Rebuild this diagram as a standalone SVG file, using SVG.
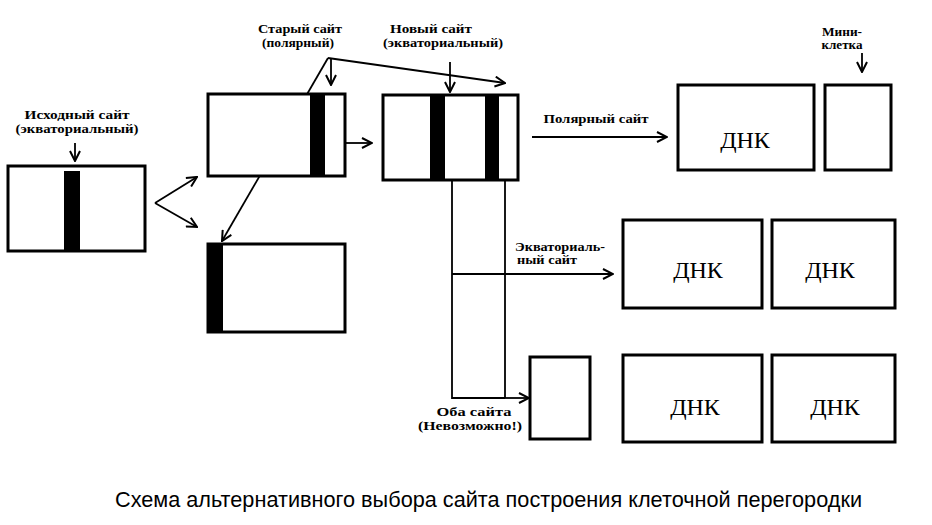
<svg xmlns="http://www.w3.org/2000/svg" width="932" height="525" viewBox="0 0 932 525">
<defs>
<style>
.box{fill:#fff;stroke:#000;stroke-width:3}
.band{fill:#000}
.ln{fill:none;stroke:#000;stroke-width:1.8}
.arr{fill:none;stroke:#000;stroke-width:1.8;marker-end:url(#ah)}
.lbl{font-family:"Liberation Serif","Times New Roman",serif;font-weight:bold;font-size:13px;text-anchor:middle;fill:#000}
.sm{font-size:11.5px}
.dnk{font-family:"Liberation Serif","Times New Roman",serif;font-size:24px;text-anchor:middle;fill:#000}
.title{font-family:"Liberation Sans",Arial,sans-serif;font-size:22px;fill:#000}
</style>
<marker id="ah" viewBox="0 0 12 12" refX="11" refY="6" markerWidth="12" markerHeight="12" markerUnits="userSpaceOnUse" orient="auto">
<path d="M1,1 L11,6 L1,11" fill="none" stroke="#000" stroke-width="2"/>
</marker>
</defs>
<rect width="932" height="525" fill="#fff"/>

<g id="connectors">
<line class="arr" x1="75" y1="143" x2="75" y2="161"/>
<line class="arr" x1="155" y1="203" x2="197" y2="177"/>
<line class="arr" x1="155" y1="203" x2="197" y2="227"/>
<line class="arr" x1="346" y1="143" x2="372" y2="143"/>
<line class="arr" x1="328" y1="58" x2="222" y2="241"/>
<line class="arr" x1="328" y1="58" x2="505" y2="83"/>
<line class="arr" x1="331" y1="59" x2="331" y2="85"/>
<line class="arr" x1="450" y1="62" x2="450" y2="92"/>
<line class="arr" x1="532" y1="137" x2="667" y2="137"/>
<line class="arr" x1="862" y1="53" x2="862" y2="72"/>
<polyline class="ln" points="452,180 452,398 505,398"/>
<line class="ln" x1="505" y1="180" x2="505" y2="398"/>
<line class="arr" x1="452" y1="274" x2="613" y2="274"/>
<line class="arr" x1="505" y1="398" x2="529" y2="398"/>
</g>

<g id="initial-cell">
<rect class="box" x="8" y="166" width="137" height="85"/>
<rect class="band" x="64" y="171" width="16" height="80"/>
<text class="lbl" x="77" y="119" textLength="105" lengthAdjust="spacingAndGlyphs">Исходный сайт</text>
<text class="lbl" x="77" y="133" textLength="123" lengthAdjust="spacingAndGlyphs">(экваториальный)</text>
</g>

<g id="cell-polar">
<rect class="box" x="208" y="94" width="137" height="82"/>
<rect class="band" x="310" y="94" width="15" height="82"/>
<text class="lbl" x="300" y="33" textLength="84" lengthAdjust="spacingAndGlyphs">Старый сайт</text>
<text class="lbl" x="298" y="47" textLength="72" lengthAdjust="spacingAndGlyphs">(полярный)</text>
</g>

<g id="cell-left-band">
<rect class="box" x="208" y="244" width="137" height="88"/>
<rect class="band" x="207" y="244" width="16" height="88"/>
</g>

<g id="cell-new">
<rect class="box" x="383" y="95" width="135" height="85"/>
<rect class="band" x="430" y="95" width="15" height="85"/>
<rect class="band" x="485" y="95" width="14" height="85"/>
<text class="lbl" x="431" y="33" textLength="82" lengthAdjust="spacingAndGlyphs">Новый сайт</text>
<text class="lbl" x="443" y="47" textLength="120" lengthAdjust="spacingAndGlyphs">(экваториальный)</text>
</g>

<g id="label-polar">
<text class="lbl" x="596" y="123" textLength="105" lengthAdjust="spacingAndGlyphs">Полярный сайт</text>
</g>

<g id="polar-dna">
<rect class="box" x="678" y="85" width="136" height="85"/>
<text class="dnk" x="745" y="148">ДНК</text>
</g>

<g id="polar-mini">
<rect class="box" x="825" y="85" width="66" height="85"/>
<text class="lbl sm" x="842" y="36" textLength="40" lengthAdjust="spacingAndGlyphs">Мини-</text>
<text class="lbl sm" x="842" y="49" textLength="41" lengthAdjust="spacingAndGlyphs">клетка</text>
</g>

<g id="label-equatorial">
<text class="lbl sm" x="515" y="251" style="text-anchor:start" textLength="90" lengthAdjust="spacingAndGlyphs">Экваториаль-</text>
<text class="lbl sm" x="517" y="264" style="text-anchor:start" textLength="60" lengthAdjust="spacingAndGlyphs">ный  сайт</text>
</g>

<g id="eq-dna-1">
<rect class="box" x="623" y="220" width="139" height="88"/>
<text class="dnk" x="698" y="278">ДНК</text>
</g>
<g id="eq-dna-2">
<rect class="box" x="772" y="220" width="123" height="88"/>
<text class="dnk" x="830" y="278">ДНК</text>
</g>

<g id="both-small">
<rect class="box" x="530" y="357" width="60" height="82"/>
<text class="lbl" x="474" y="416" textLength="75" lengthAdjust="spacingAndGlyphs">Оба сайта</text>
<text class="lbl" x="470" y="430" textLength="104" lengthAdjust="spacingAndGlyphs">(Невозможно!)</text>
</g>
<g id="both-dna-1">
<rect class="box" x="623" y="355" width="139" height="87"/>
<text class="dnk" x="695" y="415">ДНК</text>
</g>
<g id="both-dna-2">
<rect class="box" x="772" y="355" width="123" height="87"/>
<text class="dnk" x="835" y="415">ДНК</text>
</g>

<g id="caption">
<text class="title" x="115" y="507" textLength="747" lengthAdjust="spacingAndGlyphs">Схема альтернативного выбора сайта построения клеточной перегородки</text>
</g>
</svg>
